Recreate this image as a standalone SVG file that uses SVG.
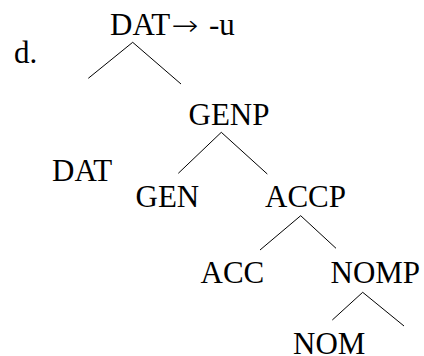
<svg xmlns="http://www.w3.org/2000/svg" width="424" height="356" viewBox="0 0 424 356">
<style>
text{font-family:"Liberation Serif","Times New Roman",serif;font-size:31px;fill:#000}
text.arrow{font-family:"DejaVu Sans",sans-serif;font-size:28px;font-weight:200}
line{stroke:#000;stroke-width:1}
</style>
<rect width="424" height="356" fill="#fff"/>
<text id="label-d" x="14" y="63">d.</text>
<g id="root">
<text x="110" y="35">DAT</text>
<text class="arrow" x="171.5" y="35" textLength="27" lengthAdjust="spacingAndGlyphs">→</text>
<text x="209" y="35">-u</text>
</g>
<g id="dat"><text x="52" y="181">DAT</text></g>
<g id="genp"><text x="188.5" y="125">GENP</text></g>
<g id="gen"><text x="135.5" y="206.7">GEN</text></g>
<g id="accp"><text x="265" y="206.7">ACCP</text></g>
<g id="acc"><text x="200.5" y="282.7">ACC</text></g>
<g id="nomp"><text x="330.5" y="282.7">NOMP</text></g>
<g id="nom"><text x="293" y="354">NOM</text></g>
<g id="connectors">
<line x1="132.7" y1="42.3" x2="88.3" y2="78.3"/>
<line x1="132.7" y1="42.3" x2="181" y2="84"/>
<line x1="221.3" y1="132.3" x2="178.3" y2="173.3"/>
<line x1="221.3" y1="132.3" x2="267.3" y2="174"/>
<line x1="300.7" y1="215.7" x2="260" y2="250"/>
<line x1="300.7" y1="215.7" x2="336" y2="248.3"/>
<line x1="362.7" y1="292.3" x2="332.3" y2="320"/>
<line x1="362.7" y1="292.3" x2="404" y2="326"/>
</g>
</svg>
